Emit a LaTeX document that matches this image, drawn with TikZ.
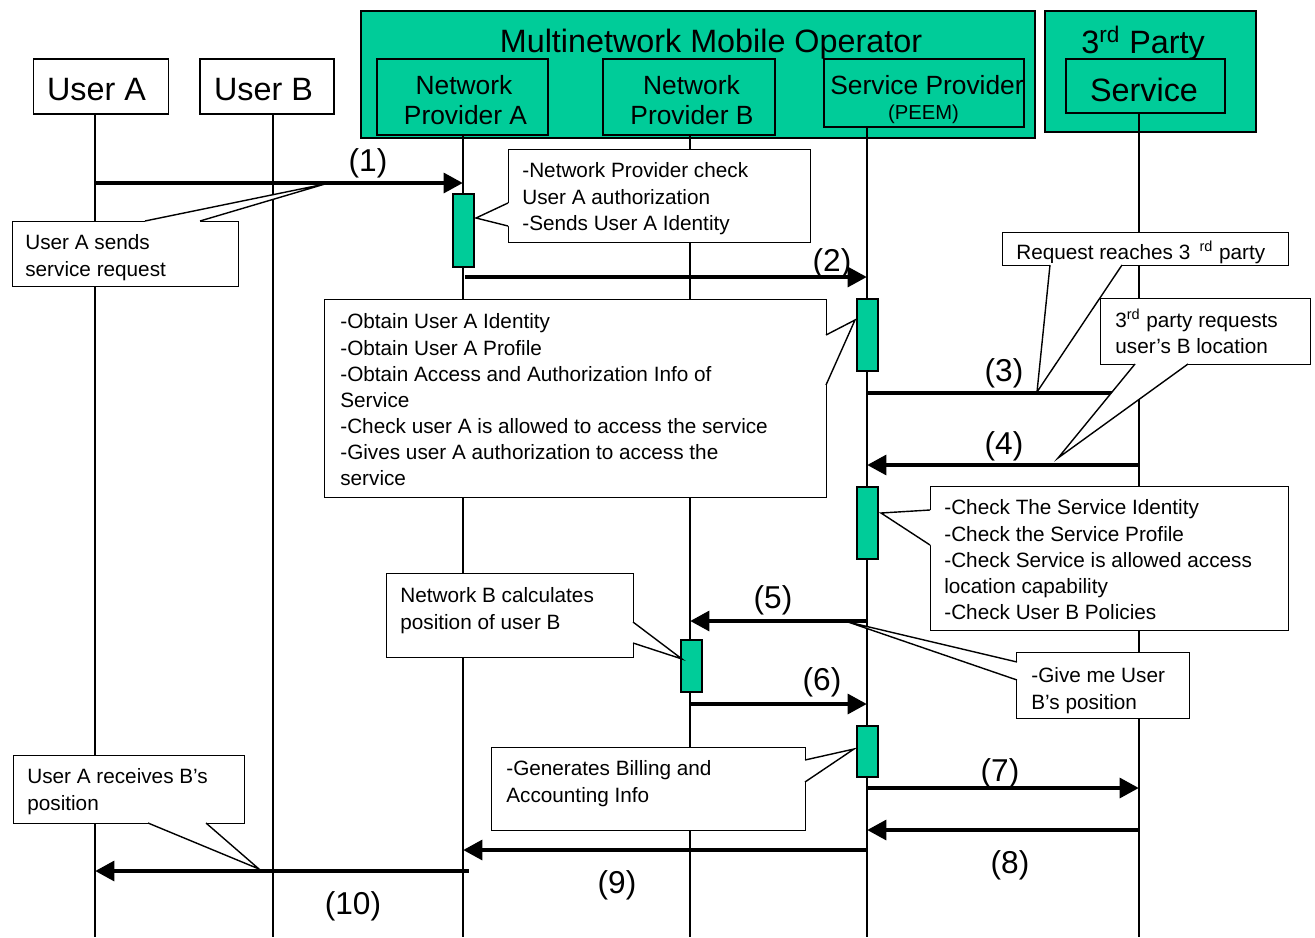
\documentclass[tikz,border=0pt]{standalone}
\usepackage{fontspec}
\setmainfont{Liberation Sans}
\usetikzlibrary{arrows.meta}
\definecolor{opgreen}{RGB}{0,204,153}

\tikzset{
  hdr/.style={draw, thick, fill=white, inner sep=0pt},
  grp/.style={draw, thick, fill=opgreen, inner sep=0pt},
  big/.style={inner sep=0pt, font=\fontsize{18.4}{22}\selectfont},
  mid/.style={inner sep=0pt, font=\fontsize{15}{17}\selectfont},
  act/.style={draw, thick, fill=opgreen, minimum width=0.42cm, inner sep=0pt},
  life/.style={line width=1.1pt},
  msg/.style={line width=2.8pt, -{Triangle[length=11pt,width=11pt]}},
  num/.style={inner sep=0pt, font=\fontsize{18}{21}\selectfont},
  call/.style={draw, thick, fill=white, anchor=north west, inner sep=0pt},
  ctext/.style={anchor=north west, align=left, inner sep=0pt, font=\fontsize{11.8}{14.9}\selectfont},
  wedge/.style={thick}
}

\begin{document}
\begin{tikzpicture}[x=0.02cm, y=-0.02cm]
\useasboundingbox (0,0) rectangle (1315,937);

% header
\node[hdr, minimum width=2.7cm, minimum height=1.1cm] (usera) at (101,86.5) {};
\node[big] (useratext) at (96.5,90) {User A};
\node[hdr, minimum width=2.68cm, minimum height=1.1cm] (userb) at (267,86.5) {};
\node[big] (userbtext) at (263.5,90) {User B};
\node[grp, minimum width=13.48cm, minimum height=2.54cm] (mmo) at (698,74.5) {};
\node[big] (mmotitle) at (711,44) {Multinetwork Mobile Operator};
\node[grp, minimum width=3.42cm, minimum height=1.52cm] (npa) at (462.5,97) {};
\node[mid] (npatext1) at (464,85) {Network};
\node[mid] (npatext2) at (465.5,115) {Provider A};
\node[grp, minimum width=3.44cm, minimum height=1.52cm] (npb) at (689,97) {};
\node[mid] (npbtext1) at (691.5,85) {Network};
\node[mid] (npbtext2) at (692,115) {Provider B};
\node[grp, minimum width=4cm, minimum height=1.36cm] (sp) at (924,93) {};
\node[mid] (sptext) at (927,85) {Service Provider};
\node[inner sep=0pt, font=\fontsize{11.5}{13}\selectfont] (peem) at (923.5,114) {(PEEM)};
\node[grp, minimum width=4.22cm, minimum height=2.42cm] (third) at (1150.5,71.5) {};
\node[big] (thirdtitle) at (1143,43) {3\textsuperscript{rd} Party};
\node[grp, minimum width=3.18cm, minimum height=1.08cm] (svc) at (1145.5,86) {};
\node[big] (svctext) at (1144,90) {Service};

% lifelines
\coordinate (bot) at (0,937);
\coordinate (xa) at (95,0);
\coordinate (xb) at (273,0);
\coordinate (xna) at (463,0);
\coordinate (xnb) at (690,0);
\coordinate (xs) at (867,0);
\coordinate (xt) at (1139,0);
\draw[life] (usera.south -| xa) -- (xa |- bot);
\draw[life] (userb.south -| xb) -- (xb |- bot);
\draw[life] (npa.south -| xna) -- (xna |- bot);
\draw[life] (npb.south -| xnb) -- (xnb |- bot);
\draw[life] (sp.south -| xs) -- (xs |- bot);
\draw[life] (svc.south -| xt) -- (xt |- bot);

% activations
\node[act, minimum height=1.46cm] (acta) at (463.5,230.5) {};
\node[act, minimum height=1.44cm] (acts1) at (867.5,335) {};
\node[act, minimum height=1.44cm] (acts2) at (867.5,523) {};
\node[act, minimum height=1.04cm] (actb) at (691.5,666) {};
\node[act, minimum height=1.02cm] (acts3) at (867.5,751.5) {};

% messages
\coordinate (m1) at (0,183);
\coordinate (m2) at (0,277);
\coordinate (m3) at (0,393);
\coordinate (m4) at (0,465);
\coordinate (m5) at (0,621);
\coordinate (m6) at (0,704);
\coordinate (m7) at (0,788);
\coordinate (m8) at (0,830);
\coordinate (m9) at (0,850);
\coordinate (m10) at (0,871);
\draw[msg] (xa |- m1) -- (xna |- m1);
\draw[msg] ([xshift=1.1pt]xna |- m2) -- (xs |- m2);
\draw[msg] (xs |- m3) -- (xt |- m3);
\draw[msg] (xt |- m4) -- (xs |- m4);
\draw[msg] (xs |- m5) -- (xnb |- m5);
\draw[msg] (xnb |- m6) -- (xs |- m6);
\draw[msg] (xs |- m7) -- (xt |- m7);
\draw[msg] (xt |- m8) -- (xs |- m8);
\draw[msg] (xs |- m9) -- (xna |- m9);
\draw[msg] ([xshift=3.4pt]xna |- m10) -- (xa |- m10);

\node[num] (l1) at (368,163) {(1)};
\node[num] (l2) at (832,263) {(2)};
\node[num] (l3) at (1004,373) {(3)};
\node[num] (l4) at (1004,446) {(4)};
\node[num] (l5) at (773,600) {(5)};
\node[num] (l6) at (822,682) {(6)};
\node[num] (l7) at (1000,773) {(7)};
\node[num] (l8) at (1010,865) {(8)};
\node[num] (l9) at (617,885) {(9)};
\node[num] (l10) at (353,906) {(10)};

% callouts
\node[call, minimum width=4.52cm, minimum height=1.3cm] (c1) at (12,221) {};
\node[ctext] (c1t) at ([shift={(13,13.5)}]c1.north west) {User A sends\\service request};
\fill[white] (145,223) -- (145,221) -- (325,184) -- (200,221) -- (200,223) -- cycle;
\draw[wedge] (145,221) -- (325,184) -- (200,221);

\node[call, minimum width=6.04cm, minimum height=1.86cm] (c2) at (508,149) {};
\node[ctext] (c2t) at ([shift={(14,13.5)}]c2.north west) {-Network Provider check\\User A authorization\\-Sends User A Identity};
\fill[white] (510,203) -- (508,203) -- (476,218) -- (508,226) -- (510,226) -- cycle;
\draw[wedge] (508,203) -- (476,218) -- (508,226);

\node[call, minimum width=10.04cm, minimum height=3.96cm] (c3) at (324,299) {};
\node[ctext] (c3t) at ([shift={(16,14.5)}]c3.north west) {-Obtain User A Identity\\-Obtain User A Profile\\-Obtain Access and Authorization Info of\\Service\\-Check user A is allowed to access the service\\-Gives user A authorization to access the\\service};
\fill[white] (824,335) -- (826,335) -- (855,320) -- (826,385) -- (824,385) -- cycle;
\draw[wedge] (826,335) -- (855,320) -- (826,385);

\node[call, minimum width=5.72cm, minimum height=0.66cm] (c4) at (1002,232) {};
\node[ctext] (c4t) at ([shift={(14,9)}]c4.north west) {Request reaches 3 \,\textsuperscript{rd} party};
\fill[white] (1050,263) -- (1050,265) -- (1037,392) -- (1122,265) -- (1122,263) -- cycle;
\draw[wedge] (1050,265) -- (1037,392) -- (1122,265);

\node[call, minimum width=4.2cm, minimum height=1.32cm] (c5) at (1100,298) {};
\node[ctext] (c5t) at ([shift={(15,10.5)}]c5.north west) {3\textsuperscript{rd} party requests\\user’s B location};
\fill[white] (1135,362) -- (1135,364) -- (1058,458) -- (1188,364) -- (1188,362) -- cycle;
\draw[wedge] (1135,364) -- (1058,458) -- (1188,364);

\node[call, minimum width=7.16cm, minimum height=2.88cm] (c6) at (930,486) {};
\node[ctext] (c6t) at ([shift={(14,13.5)}]c6.north west) {-Check The Service Identity\\-Check the Service Profile\\-Check Service is allowed access\\location capability\\-Check User B Policies};
\fill[white] (932,510) -- (930,510) -- (881,513) -- (930,545) -- (932,545) -- cycle;
\draw[wedge] (930,510) -- (881,513) -- (930,545);

\node[call, minimum width=4.94cm, minimum height=1.68cm] (c7) at (386,573) {};
\node[ctext] (c7t) at ([shift={(14,14.5)}]c7.north west) {Network B calculates\\position of user B};
\fill[white] (631,622) -- (633,622) -- (682,659) -- (633,643) -- (631,643) -- cycle;
\draw[wedge] (633,622) -- (682,659) -- (633,643);

\node[call, minimum width=3.46cm, minimum height=1.32cm] (c8) at (1016,652) {};
\node[ctext] (c8t) at ([shift={(15,15.5)}]c8.north west) {-Give me User\\B’s position};
\fill[white] (1019,662) -- (1017,662) -- (848,622) -- (1017,680) -- (1019,680) -- cycle;
\draw[wedge] (1017,662) -- (848,622) -- (1017,680);

\node[call, minimum width=6.28cm, minimum height=1.66cm] (c9) at (491,747) {};
\node[ctext] (c9t) at ([shift={(15,13.5)}]c9.north west) {-Generates Billing and\\Accounting Info};
\fill[white] (803,760) -- (805,760) -- (854,749) -- (805,782) -- (803,782) -- cycle;
\draw[wedge] (805,760) -- (854,749) -- (805,782);

\node[call, minimum width=4.62cm, minimum height=1.36cm] (c10) at (13,755) {};
\node[ctext] (c10t) at ([shift={(14,13.5)}]c10.north west) {User A receives B’s\\position};
\fill[white] (148,821) -- (148,823) -- (259,869) -- (206,823) -- (206,821) -- cycle;
\draw[wedge] (148,823) -- (259,869) -- (206,823);

\end{tikzpicture}
\end{document}
